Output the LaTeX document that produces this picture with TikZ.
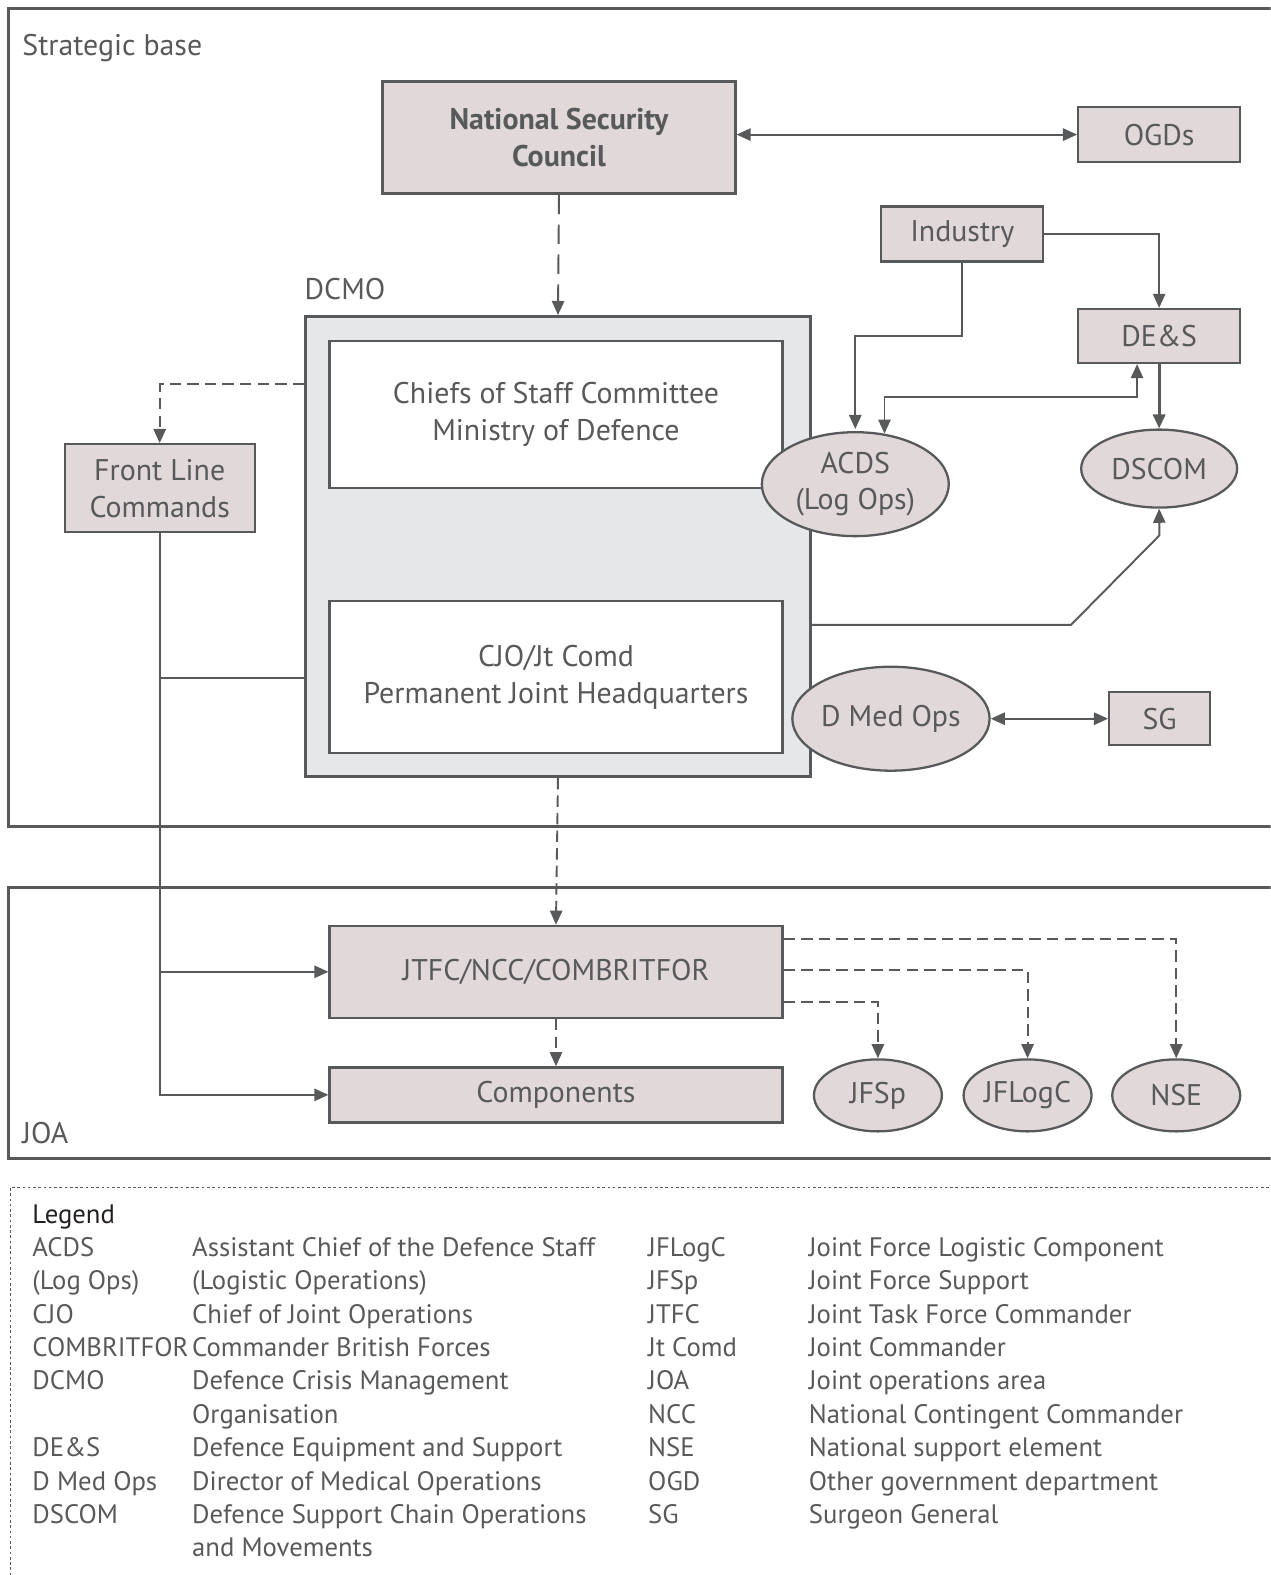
\documentclass[tikz,border=0pt]{standalone}
\usepackage{fontspec}
\setmainfont{PT Sans}
\usetikzlibrary{shapes.geometric,arrows.meta,calc}

\definecolor{linegray}{HTML}{58595B}
\definecolor{boxfill}{HTML}{E0D8D9}
\definecolor{dcmofill}{HTML}{E6E7E8}
\definecolor{legtitle}{HTML}{231F20}

\newcommand{\boxfont}{\fontsize{17}{21}\selectfont}
\newcommand{\legfont}{\fontsize{15.2}{18.7}\selectfont}

\tikzstyle{orgbox}=[rectangle, draw=linegray, fill=boxfill, line width=1.3pt, text=linegray, align=center, font=\boxfont, inner sep=0pt]
\tikzstyle{orgell}=[ellipse, draw=linegray, fill=boxfill, line width=1.3pt, text=linegray, align=center, font=\boxfont, inner sep=0pt]
\tikzstyle{conn}=[draw=linegray, line width=1.1pt]
\tikzstyle{arr}=[conn, -{Triangle[width=7pt,length=8pt]}]
\tikzstyle{darr}=[conn, {Triangle[width=7pt,length=8pt]}-{Triangle[width=7pt,length=8pt]}]
\tikzstyle{dasharr}=[arr, dash pattern=on 6.5pt off 3.5pt]
\tikzstyle{frame}=[draw=linegray, line width=1.7pt]
\tikzstyle{lbl}=[text=linegray, font=\boxfont, inner sep=0pt, anchor=base west]
\tikzstyle{legtext}=[text=linegray, font=\legfont, inner sep=0pt, anchor=base west]

\begin{document}
\begin{tikzpicture}[x=0.0201cm, y=-0.0201cm]
\useasboundingbox (0,0) rectangle (1265,1568);
\clip (0,0) rectangle (1265,1568);

% frames
\draw[frame] (1300,8) -- (8,8) -- (8,823) -- (1300,823);
\draw[frame] (1300,884) -- (8,884) -- (8,1153) -- (1300,1153);
\draw[draw=linegray, line width=0.6pt, dash pattern=on 1.5pt off 1.5pt] (1300,1182) -- (10,1182) -- (10,1600);
\node[lbl] (sbase) at (22,55) {Strategic base};
\node[lbl] (joa) at (22,1138) {JOA};
\node[lbl] (dcmolbl) at (303,298) {DCMO};

% strategic level
\node[orgbox, minimum width=7.06cm, minimum height=2.24cm, font=\boxfont\bfseries] (nsc) at (556.5,137) {National Security\\Council};
\node[orgbox, minimum width=3.24cm, minimum height=1.1cm] (ogd) at (1154,134) {OGDs};
\node[orgbox, minimum width=3.24cm, minimum height=1.1cm] (ind) at (958,233) {Industry};
\node[orgbox, minimum width=3.24cm, minimum height=1.08cm] (des) at (1154,334.5) {DE\&S};

\node[rectangle, draw=linegray, fill=dcmofill, line width=1.7pt, minimum width=10.1cm, minimum height=9.2cm] (dcmo) at (555.5,544) {};
\node[orgbox, fill=white, minimum width=9.06cm, minimum height=2.94cm] (cos) at (553.5,412.5) {Chiefs of Staff Committee\\Ministry of Defence};
\node[orgbox, fill=white, minimum width=9.06cm, minimum height=3.04cm] (pjhq) at (553.5,674) {CJO/Jt Comd\\Permanent Joint Headquarters};

\node[orgell, minimum width=3.74cm, minimum height=2.08cm] (acds) at (851.5,482) {ACDS\\(Log Ops)};
\node[orgell, minimum width=3.12cm, minimum height=1.56cm] (dscom) at (1154,466.5) {DSCOM};
\node[orgell, minimum width=3.92cm, minimum height=2.08cm] (dmed) at (887,715.5) {D Med Ops};
\node[orgbox, minimum width=2.02cm, minimum height=1.06cm] (sg) at (1154.5,715.5) {SG};
\node[orgbox, minimum width=3.8cm, minimum height=1.76cm] (flc) at (159,486) {Front Line\\Commands};

% JOA level
\node[orgbox, minimum width=9.06cm, minimum height=1.84cm] (jtfc) at (553.5,967.5) {JTFC/NCC/COMBRITFOR};
\node[orgbox, minimum width=9.06cm, minimum height=1.1cm] (comp) at (553.5,1090) {Components};
\node[orgell, minimum width=2.56cm, minimum height=1.44cm] (jfsp) at (874,1090.5) {JFSp};
\node[orgell, minimum width=2.56cm, minimum height=1.44cm] (jflogc) at (1023,1090.5) {JFLogC};
\node[orgell, minimum width=2.56cm, minimum height=1.44cm] (nse) at (1171,1090.5) {NSE};

% connectors
\draw[darr] (nsc.east |- ogd.west) -- (ogd.west);
\draw[arr, dash pattern=on 11pt off 6pt] (nsc.south) -- (dcmo.north);
\draw[arr] (ind.south) -- ++(0,73) -| ($(acds.north)+(0,-2)$);
\draw[arr] (ind.east) -| (des.north);
\draw[darr] (acds.60) |- ($(des.south)+(-22,33)$) -- ($(des.south)+(-22,0)$);
\draw[arr, line width=1.6pt] (des.south) -- (dscom.north);
\draw[arr] ($(dcmo.east)+(0,78)$) -- ++(258,0) -- ++(88,-89) -- (dscom.south);
\draw[darr] (dmed.east) -- (sg.west);
\draw[dasharr] ($(dcmo.north west)+(0,69)$) -| (flc.north);
\draw[arr] (flc.south) |- (comp.west);
\draw[arr] (flc.south |- jtfc.west) -- (jtfc.west);
\draw[conn] ($(flc.south |- pjhq.west)+(0,1)$) -- ($(dcmo.west |- pjhq.west)+(0,1)$);
\draw[dasharr] (dcmo.south) -- (jtfc.north);
\draw[dasharr] (jtfc.south) -- (comp.north);
\draw[dasharr] ($(jtfc.north east)+(0,14)$) -| (nse.north);
\draw[dasharr] ($(jtfc.east)+(0,-2)$) -| (jflogc.north);
\draw[dasharr] ($(jtfc.south east)+(0,-17)$) -| (jfsp.north);

% legend
\node[legtext, text=legtitle] (legend) at (32,1218) {Legend};
\foreach \ab/\df [count=\i] in {ACDS/Assistant Chief of the Defence Staff, {(Log Ops)}/{(Logistic Operations)}, CJO/Chief of Joint Operations, COMBRITFOR/Commander British Forces, DCMO/Defence Crisis Management, /Organisation, DE\&S/Defence Equipment and Support, D Med Ops/Director of Medical Operations, DSCOM/Defence Support Chain Operations, /and Movements}{
  \node[legtext] (la\i) at (32,1251+33.2*\i-33.2) {\ab};
  \node[legtext] (ld\i) at (191,1251+33.2*\i-33.2) {\df};
}
\foreach \ab/\df [count=\i] in {JFLogC/Joint Force Logistic Component, JFSp/Joint Force Support, JTFC/Joint Task Force Commander, Jt Comd/Joint Commander, JOA/Joint operations area, NCC/National Contingent Commander, NSE/National support element, OGD/Other government department, SG/Surgeon General}{
  \node[legtext] (ra\i) at (645,1251+33.2*\i-33.2) {\ab};
  \node[legtext] (rd\i) at (805,1251+33.2*\i-33.2) {\df};
}
\end{tikzpicture}
\end{document}
